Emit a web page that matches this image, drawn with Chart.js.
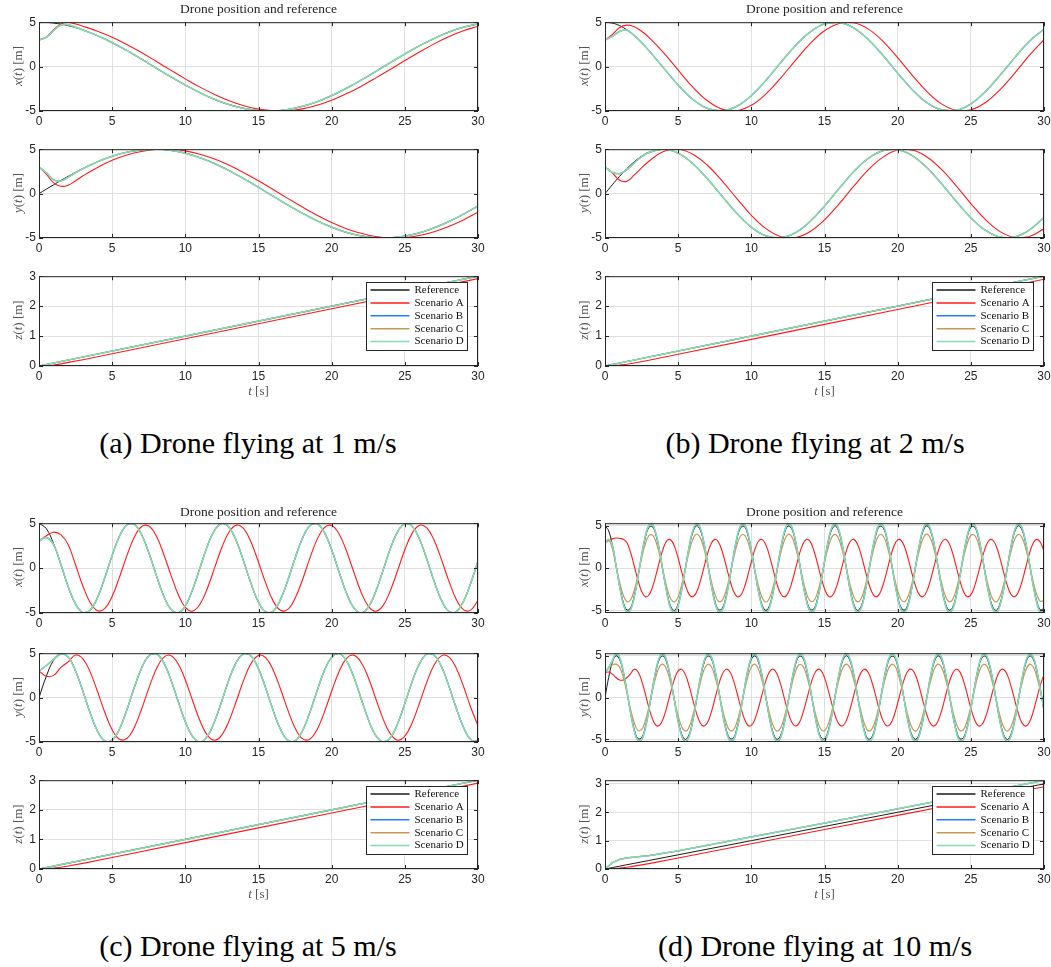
<!DOCTYPE html>
<html>
<head>
<meta charset="utf-8">
<script src="https://cdn.jsdelivr.net/npm/chart.js@4.4.0/dist/chart.umd.min.js"></script>
<style>
  body { margin: 0; width: 1051px; height: 967px; overflow: hidden; position: relative; background: #fff; }
  canvas { position: absolute; }
  .txt { position: absolute; transform: translate(-50%, -50%); white-space: nowrap; font-family: "Liberation Serif", serif; color: #262626; }
  .ttl { font-size: 13.5px; }
  .lab { font-size: 13px; color: #555; }
  .ylab { transform: translate(-50%, -50%) rotate(-90deg); }
  .cap { font-size: 30px; color: #000; }
</style>
</head>
<body>
<script>
// ---- common axis ticks / labels ----
const tTicks = [0, 5, 10, 15, 20, 25, 30];
const xyTicks = [-5, 0, 5];
const zTicks = [0, 1, 2, 3];
const scenLabels = ['Reference', 'Scenario A', 'Scenario B', 'Scenario C', 'Scenario D'];

// ---- (a) 1 m/s ----
const a_t = [0,0.5,1,1.5,2,2.5,3,4,5,6,7,8,9,10,11,12,13,14,15,16,17,18,19,20,21,22,23,24,25,26,27,28,29,30];
const a_xRef = [5.00,4.98,4.90,4.78,4.61,4.39,4.13,3.48,2.70,1.81,0.85,-0.15,-1.14,-2.08,-2.94,-3.69,-4.28,-4.71,-4.95,-4.99,-4.83,-4.48,-3.96,-3.27,-2.45,-1.54,-0.56,0.44,1.42,2.34,3.17,3.88,4.43,4.80];
const a_xA = [3.00,3.35,4.15,4.80,4.97,4.80,4.55,3.98,3.30,2.49,1.58,0.60,-0.40,-1.38,-2.31,-3.14,-3.85,-4.41,-4.79,-4.98,-4.97,-4.76,-4.36,-3.79,-3.07,-2.23,-1.30,-0.32,0.68,1.65,2.56,3.36,4.03,4.54];
// B, C and D sit on top of each other; after the start they follow the reference
const a_xTrack = [3.00,3.30,4.05,4.68,4.70,4.43,4.13].concat(a_xRef.slice(7));
const a_yRef = [0,0.50,0.99,1.48,1.95,2.40,2.82,3.59,4.21,4.66,4.93,5.00,4.87,4.55,4.04,3.38,2.58,1.67,0.71,-0.29,-1.28,-2.21,-3.06,-3.78,-4.36,-4.76,-4.97,-4.98,-4.79,-4.42,-3.86,-3.16,-2.32,-1.40];
const a_yA = [3.00,2.20,1.20,0.82,0.95,1.45,2.00,2.95,3.75,4.34,4.74,4.96,4.99,4.81,4.44,3.89,3.19,2.36,1.44,0.46,-0.54,-1.52,-2.44,-3.26,-3.95,-4.47,-4.83,-4.99,-4.95,-4.72,-4.29,-3.70,-2.96,-2.10];
const a_yTrack = [3.00,2.35,1.55,1.42,1.85,2.35,2.80].concat(a_yRef.slice(7));
const a_tz = [0,0.5,1,1.5,2,3,5,10,15,20,25,30];
const a_zRef = [0,0.05,0.10,0.15,0.20,0.30,0.50,1.00,1.50,2.00,2.50,3.00];
const a_zA = [0,0.01,0.03,0.07,0.12,0.21,0.41,0.91,1.41,1.91,2.41,2.92];
const a_zTrack = [0,0.05,0.10,0.15,0.20,0.30,0.50,1.00,1.50,2.00,2.50,3.00];

// ---- (b) 2 m/s ----
const b_t = [0,0.5,1,1.5,2,2.5,3,4,5,6,7,8,9,10,11,12,13,14,15,16,17,18,19,20,21,22,23,24,25,26,27,28,29,30];
const b_xRef = [5.00,4.90,4.61,4.13,3.48,2.70,1.81,-0.15,-2.08,-3.69,-4.71,-4.99,-4.48,-3.27,-1.54,0.44,2.34,3.88,4.80,4.97,4.35,3.04,1.25,-0.73,-2.60,-4.06,-4.87,-4.92,-4.20,-2.81,-0.97,1.01,2.85,4.22];
const b_xA = [3.00,3.60,4.40,4.67,4.50,3.98,3.30,1.58,-0.40,-2.31,-3.85,-4.79,-4.97,-4.36,-3.07,-1.30,0.68,2.56,4.03,4.86,4.93,4.22,2.85,1.01,-0.98,-2.81,-4.20,-4.92,-4.87,-4.05,-2.59,-0.73,1.26,3.04];
const b_xTrack = [3.00,3.40,3.95,4.10,3.50,2.70,1.81].concat(b_xRef.slice(7));
const b_yRef = [0,0.99,1.95,2.82,3.59,4.21,4.66,5.00,4.55,3.38,1.67,-0.29,-2.21,-3.78,-4.76,-4.98,-4.42,-3.16,-1.40,0.58,2.47,3.97,4.84,4.95,4.27,2.92,1.11,-0.87,-2.72,-4.14,-4.90,-4.89,-4.11,-2.68];
const b_yA = [3.00,2.35,1.50,1.40,2.10,2.90,3.65,4.74,4.99,4.44,3.19,1.44,-0.54,-2.44,-3.95,-4.83,-4.95,-4.29,-2.96,-1.16,0.83,2.69,4.11,4.90,4.90,4.13,2.72,0.87,-1.12,-2.93,-4.28,-4.95,-4.84,-3.97];
const b_yTrack = [3.00,2.40,2.25,2.70,3.45,4.15,4.62].concat(b_yRef.slice(7));
const b_tz = [0,0.5,1,1.5,2,3,5,10,15,20,25,30];
const b_zRef = [0,0.05,0.10,0.15,0.20,0.30,0.50,1.00,1.50,2.00,2.50,3.00];
const b_zA = [0,0.01,0.03,0.06,0.10,0.19,0.39,0.89,1.39,1.89,2.39,2.90];
const b_zTrack = [0,0.05,0.10,0.15,0.20,0.30,0.50,1.00,1.50,2.00,2.50,3.00];

// ---- (c) 5 m/s ----
const c_t = [0,0.5,1,1.5,2,2.5,3,3.5,4,4.5,5,5.5,6,6.5,7,7.5,8,8.5,9,9.5,10,10.5,11,11.5,12,12.5,13,13.5,14,14.5,15,15.5,16,16.5,17,17.5,18,18.5,19,19.5,20,20.5,21,21.5,22,22.5,23,23.5,24,24.5,25,25.5,26,26.5,27,27.5,28,28.5,29,29.5,30];
const c_xRef = [5.00,4.39,2.70,0.35,-2.08,-4.01,-4.95,-4.68,-3.27,-1.05,1.42,3.54,4.80,4.88,3.77,1.73,-0.73,-3.01,-4.56,-4.99,-4.20,-2.38,0.02,2.42,4.22,4.99,4.54,2.97,0.68,-1.77,-3.80,-4.89,-4.79,-3.51,-1.38,1.10,3.30,4.70,4.94,3.98,2.04,-0.40,-2.74,-4.41,-5.00,-4.37,-2.66,-0.31,2.12,4.03,4.96,4.67,3.23,1.01,-1.46,-3.57,-4.81,-4.87,-3.74,-1.69,0.77];
const c_xA = [3.00,3.60,4.00,3.70,2.59,0.34,-2.00,-3.85,-4.75,-4.49,-3.14,-1.01,1.36,3.40,4.61,4.68,3.62,1.66,-0.70,-2.89,-4.38,-4.79,-4.03,-2.28,0.02,2.32,4.05,4.79,4.36,2.85,0.65,-1.70,-3.65,-4.69,-4.60,-3.37,-1.32,1.06,3.17,4.51,4.74,3.82,1.96,-0.38,-2.63,-4.23,-4.80,-4.20,-2.55,-0.30,2.04,3.87,4.76,4.48,3.10,0.97,-1.40,-3.43,-4.62,-4.68,-3.59];
const c_xTrack = [3.00,3.40,2.60,0.40].concat(c_xRef.slice(4));
const c_yRef = [0,2.40,4.21,4.99,4.55,2.99,0.71,-1.75,-3.78,-4.89,-4.79,-3.53,-1.40,1.08,3.29,4.69,4.95,3.99,2.06,-0.38,-2.72,-4.40,-5.00,-4.38,-2.68,-0.33,2.10,4.02,4.95,4.67,3.25,1.03,-1.44,-3.56,-4.81,-4.88,-3.76,-1.71,0.75,3.03,4.56,4.98,4.18,2.36,-0.04,-2.44,-4.23,-4.99,-4.53,-2.96,-0.66,1.80,3.81,4.90,4.78,3.50,1.35,-1.12,-3.32,-4.71,-4.94];
const c_yA = [3.00,2.40,2.50,3.40,4.04,4.79,4.37,2.87,0.68,-1.68,-3.63,-4.69,-4.60,-3.39,-1.34,1.04,3.16,4.50,4.75,3.83,1.98,-0.36,-2.61,-4.22,-4.80,-4.20,-2.57,-0.32,2.02,3.86,4.75,4.48,3.12,0.99,-1.38,-3.42,-4.62,-4.68,-3.61,-1.64,0.72,2.91,4.38,4.78,4.01,2.27,-0.04,-2.34,-4.06,-4.79,-4.35,-2.84,-0.63,1.73,3.66,4.70,4.59,3.36,1.30,-1.08,-3.19];
const c_yTrack = [3.00,3.60,4.30,4.90].concat(c_yRef.slice(4));
const c_tz = [0,0.5,1,1.5,2,3,5,10,15,20,25,30];
const c_zRef = [0,0.05,0.10,0.15,0.20,0.30,0.50,1.00,1.50,2.00,2.50,3.00];
const c_zA = [0,0.01,0.03,0.06,0.10,0.19,0.39,0.89,1.39,1.89,2.39,2.90];
const c_zTrack = [0,0.05,0.10,0.15,0.20,0.30,0.50,1.00,1.50,2.00,2.50,3.00];

// ---- (d) 10 m/s ----
const d_t = [0,0.25,0.5,0.75,1,1.25,1.5,1.75,2,2.25,2.5,2.75,3,3.25,3.5,3.75,4,4.25,4.5,4.75,5,5.25,5.5,5.75,6,6.25,6.5,6.75,7,7.25,7.5,7.75,8,8.25,8.5,8.75,9,9.25,9.5,9.75,10,10.25,10.5,10.75,11,11.25,11.5,11.75,12,12.25,12.5,12.75,13,13.25,13.5,13.75,14,14.25,14.5,14.75,15,15.25,15.5,15.75,16,16.25,16.5,16.75,17,17.25,17.5,17.75,18,18.25,18.5,18.75,19,19.25,19.5,19.75,20,20.25,20.5,20.75,21,21.25,21.5,21.75,22,22.25,22.5,22.75,23,23.25,23.5,23.75,24,24.25,24.5,24.75,25,25.25,25.5,25.75,26,26.25,26.5,26.75,27,27.25,27.5,27.75,28,28.25,28.5,28.75,29,29.25,29.5,29.75,30];
const d_xRef = [5.00,4.39,2.70,0.35,-2.08,-4.01,-4.95,-4.68,-3.27,-1.05,1.42,3.54,4.80,4.88,3.77,1.73,-0.73,-3.01,-4.56,-4.99,-4.20,-2.38,0.02,2.42,4.22,4.99,4.54,2.97,0.68,-1.77,-3.80,-4.89,-4.79,-3.51,-1.38,1.10,3.30,4.70,4.94,3.98,2.04,-0.40,-2.74,-4.41,-5.00,-4.37,-2.66,-0.31,2.12,4.03,4.96,4.67,3.23,1.01,-1.46,-3.57,-4.81,-4.87,-3.74,-1.69,0.77,3.04,4.57,4.98,4.17,2.34,-0.07,-2.46,-4.24,-4.99,-4.52,-2.94,-0.64,1.82,3.83,4.90,4.78,3.48,1.33,-1.14,-3.33,-4.71,-4.94,-3.95,-2.00,0.44,2.78,4.43,5.00,4.35,2.63,0.27,-2.16,-4.06,-4.96,-4.65,-3.20,-0.97,1.50,3.61,4.83,4.86,3.71,1.65,-0.82,-3.08,-4.59,-4.98,-4.15,-2.30,0.11,2.50,4.27,4.99,4.50,2.90,0.60,-1.86,-3.86,-4.91,-4.76];
const d_xA = [3.00,3.25,3.45,3.55,3.50,3.40,2.99,1.84,0.24,-1.41,-2.73,-3.37,-3.18,-2.22,-0.71,0.97,2.41,3.26,3.32,2.56,1.18,-0.50,-2.05,-3.10,-3.39,-2.86,-1.62,0.01,1.65,2.87,3.39,3.09,2.02,0.46,-1.20,-2.58,-3.33,-3.26,-2.39,-0.94,0.75,2.24,3.20,3.36,2.71,1.39,-0.27,-1.86,-3.00,-3.40,-2.97,-1.81,-0.21,1.44,2.74,3.37,3.18,2.20,0.69,-0.99,-2.43,-3.27,-3.31,-2.54,-1.15,0.52,2.07,3.11,3.39,2.84,1.59,-0.05,-1.67,-2.88,-3.39,-3.07,-2.00,-0.44,1.24,2.60,3.33,3.25,2.37,0.90,-0.78,-2.26,-3.20,-3.36,-2.69,-1.36,0.30,1.89,3.01,3.40,2.96,1.79,0.18,-1.47,-2.76,-3.37,-3.16,-2.18,-0.66,1.02,2.45,3.28,3.30,2.52,1.12,-0.56,-2.09,-3.12,-3.39,-2.82,-1.56,0.07,1.70,2.90,3.39,3.06,1.97];
const d_xC = [3.00,3.30,2.30,0.28,-1.66,-3.21,-3.96,-3.74,-2.62,-0.84,1.14,2.83,3.84,3.90,3.02,1.38,-0.58,-2.41,-3.65,-3.99,-3.36,-1.90,0.02,1.94,3.38,3.99,3.63,2.38,0.54,-1.42,-3.04,-3.91,-3.83,-2.81,-1.10,0.88,2.64,3.76,3.95,3.18,1.63,-0.32,-2.19,-3.53,-4.00,-3.50,-2.13,-0.25,1.70,3.22,3.97,3.74,2.58,0.81,-1.17,-2.86,-3.85,-3.90,-2.99,-1.35,0.62,2.43,3.66,3.98,3.34,1.87,-0.06,-1.97,-3.39,-3.99,-3.62,-2.35,-0.51,1.46,3.06,3.92,3.82,2.78,1.06,-0.91,-2.66,-3.77,-3.95,-3.16,-1.60,0.35,2.22,3.54,4.00,3.48,2.10,0.22,-1.73,-3.25,-3.97,-3.72,-2.56,-0.78,1.20,2.89,3.86,3.89,2.97,1.32,-0.66,-2.46,-3.67,-3.98,-3.32,-1.84,0.09,2.00,3.42,3.99,3.60,2.32,0.48,-1.49,-3.09,-3.93,-3.81];
// B lies under D in this panel
const d_xBD = [3.00,3.40,2.70,0.37,-2.18,-4.21,-5.20,-4.91,-3.43,-1.10,1.49,3.72,5.04,5.12,3.96,1.82,-0.77,-3.16,-4.79,-5.24,-4.41,-2.50,0.02,2.54,4.43,5.24,4.77,3.12,0.71,-1.86,-3.99,-5.13,-5.03,-3.69,-1.45,1.16,3.47,4.94,5.19,4.18,2.14,-0.42,-2.88,-4.63,-5.25,-4.59,-2.79,-0.33,2.23,4.23,5.21,4.90,3.39,1.06,-1.53,-3.75,-5.05,-5.11,-3.93,-1.77,0.81,3.19,4.80,5.23,4.38,2.46,-0.07,-2.58,-4.45,-5.24,-4.75,-3.09,-0.67,1.91,4.02,5.15,5.02,3.65,1.40,-1.20,-3.50,-4.95,-5.19,-4.15,-2.10,0.46,2.92,4.65,5.25,4.57,2.76,0.28,-2.27,-4.26,-5.21,-4.88,-3.36,-1.02,1.58,3.79,5.07,5.10,3.90,1.73,-0.86,-3.23,-4.82,-5.23,-4.36,-2.42,0.12,2.63,4.48,5.24,4.73,3.05,0.63,-1.95,-4.05,-5.16,-5.00];
const d_yRef = [0,2.40,4.21,4.99,4.55,2.99,0.71,-1.75,-3.78,-4.89,-4.79,-3.53,-1.40,1.08,3.29,4.69,4.95,3.99,2.06,-0.38,-2.72,-4.40,-5.00,-4.38,-2.68,-0.33,2.10,4.02,4.95,4.67,3.25,1.03,-1.44,-3.56,-4.81,-4.88,-3.76,-1.71,0.75,3.03,4.56,4.98,4.18,2.36,-0.04,-2.44,-4.23,-4.99,-4.53,-2.96,-0.66,1.80,3.81,4.90,4.78,3.50,1.35,-1.12,-3.32,-4.71,-4.94,-3.97,-2.02,0.42,2.76,4.42,5.00,4.36,2.65,0.29,-2.14,-4.05,-4.96,-4.66,-3.22,-0.99,1.48,3.59,4.82,4.87,3.73,1.67,-0.79,-3.06,-4.58,-4.98,-4.16,-2.32,0.09,2.47,4.25,4.99,4.51,2.92,0.62,-1.84,-3.84,-4.91,-4.77,-3.46,-1.31,1.16,3.35,4.72,4.93,3.94,1.98,-0.46,-2.79,-4.44,-5.00,-4.33,-2.61,-0.24,2.18,4.07,4.96,4.64,3.18,0.95,-1.52];
const d_yA = [3.00,3.05,2.80,2.40,2.10,2.10,2.40,2.86,3.39,3.09,2.03,0.48,-1.19,-2.57,-3.33,-3.26,-2.40,-0.95,0.73,2.24,3.19,3.37,2.71,1.40,-0.26,-1.85,-2.99,-3.40,-2.98,-1.82,-0.22,1.43,2.73,3.37,3.18,2.21,0.70,-0.98,-2.42,-3.27,-3.32,-2.56,-1.16,0.51,2.06,3.10,3.39,2.84,1.60,-0.03,-1.66,-2.88,-3.39,-3.08,-2.01,-0.45,1.22,2.59,3.33,3.25,2.38,0.92,-0.76,-2.26,-3.20,-3.36,-2.70,-1.37,0.29,1.88,3.01,3.40,2.96,1.80,0.20,-1.46,-2.75,-3.37,-3.17,-2.19,-0.67,1.01,2.44,3.28,3.31,2.54,1.14,-0.54,-2.08,-3.11,-3.39,-2.83,-1.58,0.06,1.68,2.89,3.39,3.07,1.99,0.42,-1.25,-2.61,-3.34,-3.24,-2.35,-0.89,0.79,2.28,3.21,3.35,2.68,1.35,-0.31,-1.90,-3.02,-3.40,-2.94,-1.77,-0.16,1.48,2.77];
const d_yC = [3.00,3.50,3.90,3.99,3.64,2.39,0.57,-1.40,-3.02,-3.91,-3.83,-2.82,-1.12,0.86,2.63,3.75,3.96,3.19,1.65,-0.30,-2.18,-3.52,-4.00,-3.50,-2.14,-0.26,1.68,3.22,3.96,3.74,2.60,0.82,-1.15,-2.85,-3.85,-3.90,-3.01,-1.37,0.60,2.42,3.65,3.98,3.34,1.89,-0.03,-1.95,-3.38,-3.99,-3.62,-2.37,-0.53,1.44,3.05,3.92,3.82,2.80,1.08,-0.90,-2.66,-3.77,-3.95,-3.18,-1.62,0.34,2.21,3.54,4.00,3.49,2.12,0.23,-1.71,-3.24,-3.97,-3.73,-2.58,-0.79,1.18,2.87,3.86,3.90,2.98,1.34,-0.63,-2.45,-3.66,-3.98,-3.33,-1.86,0.07,1.98,3.40,3.99,3.61,2.34,0.50,-1.47,-3.07,-3.93,-3.82,-2.77,-1.05,0.93,2.68,3.78,3.94,3.15,1.58,-0.37,-2.23,-3.55,-4.00,-3.46,-2.09,-0.19,1.74,3.26,3.97,3.71,2.54,0.76,-1.22];
const d_yBD = [3.00,3.60,4.40,5.24,4.78,3.14,0.75,-1.84,-3.97,-5.13,-5.03,-3.71,-1.47,1.13,3.45,4.92,5.20,4.19,2.16,-0.40,-2.86,-4.62,-5.25,-4.60,-2.81,-0.35,2.21,4.22,5.20,4.90,3.41,1.08,-1.51,-3.74,-5.05,-5.12,-3.95,-1.80,0.79,3.18,4.79,5.23,4.39,2.48,-0.04,-2.56,-4.44,-5.24,-4.76,-3.11,-0.69,1.89,4.00,5.15,5.02,3.68,1.42,-1.18,-3.49,-4.95,-5.19,-4.17,-2.12,0.44,2.90,4.64,5.25,4.58,2.78,0.30,-2.25,-4.25,-5.21,-4.89,-3.38,-1.04,1.55,3.77,5.06,5.11,3.92,1.75,-0.83,-3.21,-4.81,-5.23,-4.37,-2.44,0.09,2.59,4.46,5.24,4.74,3.07,0.65,-1.93,-4.03,-5.16,-5.01,-3.63,-1.38,1.22,3.52,4.96,5.18,4.14,2.08,-0.48,-2.93,-4.66,-5.25,-4.55,-2.74,-0.25,2.29,4.27,5.21,4.87,3.34,1.00,-1.60];
const d_tz = [0,0.5,1,1.5,2,3,5,10,15,20,25,30];
const d_zRef = [0,0.05,0.10,0.15,0.20,0.30,0.50,1.00,1.50,2.00,2.50,3.00];
const d_zA = [0,0.01,0.03,0.06,0.10,0.19,0.39,0.89,1.39,1.89,2.39,2.90];
const d_zTrack = [0,0.22,0.34,0.39,0.42,0.47,0.64,1.13,1.62,2.12,2.62,3.12];

// ---- style ----
const lineColors = ['#1a1a1a', '#ff1a1a', '#1f7fff', '#c49a55', '#86dcb0'];
const lineWidths = [1, 1.1, 1.2, 1.2, 1.5];
const lineOrder = [5, 4, 3, 2, 1];   // D drawn on top, like the original plot order
const GRID = '#e0e0e0';
const AXC = '#262626';
const YW = 34, XH = 22, PT = 8, PR = 14;

// plot boxes in page pixels
const panels = [
  { L: 39,  R: 478,  tops: [20, 147, 274], h: [91, 91, 92], ttl: 8.5, dy: 0 },
  { L: 605, R: 1044, tops: [20, 147, 274], h: [91, 91, 92], ttl: 8.5, dy: 0 },
  { L: 39,  R: 478,  tops: [521, 651, 778], h: [92, 91, 91], ttl: 512, dy: 503 },
  { L: 605, R: 1044, tops: [521, 651, 778], h: [92, 91, 91], ttl: 512, dy: 503 }
];

const matlabBox = {
  id: 'matlabBox',
  afterDatasetsDraw(chart) {
    const { ctx, chartArea: ca, scales } = chart;
    ctx.save();
    ctx.strokeStyle = AXC;
    ctx.lineWidth = 1;
    ctx.beginPath();
    scales.x.ticks.forEach(t => {
      const px = Math.round(scales.x.getPixelForValue(t.value)) + 0.5;
      ctx.moveTo(px, ca.bottom); ctx.lineTo(px, ca.bottom - 4);
      ctx.moveTo(px, ca.top); ctx.lineTo(px, ca.top + 4);
    });
    scales.y.ticks.forEach(t => {
      const py = Math.round(scales.y.getPixelForValue(t.value)) + 0.5;
      ctx.moveTo(ca.left, py); ctx.lineTo(ca.left + 4, py);
      ctx.moveTo(ca.right, py); ctx.lineTo(ca.right - 4, py);
    });
    ctx.stroke();
    ctx.strokeRect(ca.left + 0.5, ca.top + 0.5, ca.right - ca.left - 1, ca.bottom - ca.top - 1);
    ctx.restore();
  }
};

const legendBox = {
  id: 'legendBox',
  afterDatasetsDraw(chart, args, opts) {
    if (!opts.show) return;
    const { ctx, chartArea: ca } = chart;
    const w = 101, h = 68;
    const x0 = Math.round(ca.right - 11 - w) + 0.5, y0 = Math.round(ca.top + 6) + 0.5;
    ctx.save();
    ctx.fillStyle = '#fff';
    ctx.fillRect(x0, y0, w, h);
    ctx.strokeStyle = AXC;
    ctx.lineWidth = 1;
    ctx.strokeRect(x0, y0, w, h);
    ctx.font = '11px "Liberation Serif"';
    ctx.textBaseline = 'middle';
    ctx.fillStyle = '#111';
    scenLabels.forEach((lab, i) => {
      const y = y0 + 7.5 + i * 12.9;
      ctx.strokeStyle = lineColors[i];
      ctx.lineWidth = 1.5;
      ctx.beginPath(); ctx.moveTo(x0 + 4, y); ctx.lineTo(x0 + 43, y); ctx.stroke();
      ctx.fillText(lab, x0 + 48, y);
    });
    ctx.restore();
  }
};
Chart.register(matlabBox, legendBox);

function pts(t, v) { return v.map((y, i) => ({ x: t[i], y: y })); }

function series(list, tension) {
  return list.map(s => ({
    label: scenLabels[s[0]],
    data: pts(s[1], s[2]),
    borderColor: lineColors[s[0]],
    borderWidth: lineWidths[s[0]],
    order: lineOrder[s[0]],
    tension: tension,
    pointRadius: 0,
    fill: false
  }));
}

function makePlot(p, row, datasets, yMin, yMax, yTicks, legend) {
  const top = p.tops[row], h = p.h[row];
  const cv = document.createElement('canvas');
  cv.width = p.R - p.L + YW + PR;
  cv.height = h + PT + XH;
  cv.style.left = (p.L - YW) + 'px';
  cv.style.top = (top - PT) + 'px';
  document.body.appendChild(cv);
  const tickFont = { family: 'Liberation Sans', size: 12 };
  new Chart(cv, {
    type: 'line',
    data: { datasets: datasets },
    options: {
      responsive: false, animation: false, devicePixelRatio: 1,
      layout: { padding: { left: 0, right: PR, top: PT, bottom: 0 } },
      plugins: { legend: { display: false }, tooltip: { enabled: false }, legendBox: { show: legend } },
      scales: {
        x: {
          type: 'linear', min: 0, max: 30,
          afterBuildTicks: s => { s.ticks = tTicks.map(v => ({ value: v })); },
          afterFit: s => { s.height = XH; },
          grid: { color: GRID, drawTicks: false },
          border: { display: false },
          ticks: { font: tickFont, color: AXC, padding: 3, maxRotation: 0, autoSkip: false }
        },
        y: {
          type: 'linear', min: yMin, max: yMax,
          afterBuildTicks: s => { s.ticks = yTicks.map(v => ({ value: v })); },
          afterFit: s => { s.width = YW; },
          grid: { color: GRID, drawTicks: false },
          border: { display: false },
          ticks: { font: tickFont, color: AXC, padding: 3, autoSkip: false }
        }
      }
    }
  });
}

function addText(cls, html, x, y) {
  const d = document.createElement('div');
  d.className = 'txt ' + cls;
  d.innerHTML = html;
  d.style.left = x + 'px';
  d.style.top = y + 'px';
  document.body.appendChild(d);
}

const P = [
  { x: [[0, a_t, a_xRef], [1, a_t, a_xA], [2, a_t, a_xTrack], [3, a_t, a_xTrack], [4, a_t, a_xTrack]],
    y: [[0, a_t, a_yRef], [1, a_t, a_yA], [2, a_t, a_yTrack], [3, a_t, a_yTrack], [4, a_t, a_yTrack]],
    z: [[0, a_tz, a_zRef], [1, a_tz, a_zA], [2, a_tz, a_zTrack], [3, a_tz, a_zTrack], [4, a_tz, a_zTrack]],
    xy: [-5, 5], zMax: 3, cap: '(a) Drone flying at 1 m/s' },
  { x: [[0, b_t, b_xRef], [1, b_t, b_xA], [2, b_t, b_xTrack], [3, b_t, b_xTrack], [4, b_t, b_xTrack]],
    y: [[0, b_t, b_yRef], [1, b_t, b_yA], [2, b_t, b_yTrack], [3, b_t, b_yTrack], [4, b_t, b_yTrack]],
    z: [[0, b_tz, b_zRef], [1, b_tz, b_zA], [2, b_tz, b_zTrack], [3, b_tz, b_zTrack], [4, b_tz, b_zTrack]],
    xy: [-5, 5], zMax: 3, cap: '(b) Drone flying at 2 m/s' },
  { x: [[0, c_t, c_xRef], [1, c_t, c_xA], [2, c_t, c_xTrack], [3, c_t, c_xTrack], [4, c_t, c_xTrack]],
    y: [[0, c_t, c_yRef], [1, c_t, c_yA], [2, c_t, c_yTrack], [3, c_t, c_yTrack], [4, c_t, c_yTrack]],
    z: [[0, c_tz, c_zRef], [1, c_tz, c_zA], [2, c_tz, c_zTrack], [3, c_tz, c_zTrack], [4, c_tz, c_zTrack]],
    xy: [-5, 5], zMax: 3, cap: '(c) Drone flying at 5 m/s' },
  { x: [[0, d_t, d_xRef], [1, d_t, d_xA], [2, d_t, d_xBD], [3, d_t, d_xC], [4, d_t, d_xBD]],
    y: [[0, d_t, d_yRef], [1, d_t, d_yA], [2, d_t, d_yBD], [3, d_t, d_yC], [4, d_t, d_yBD]],
    z: [[0, d_tz, d_zRef], [1, d_tz, d_zA], [2, d_tz, d_zTrack], [3, d_tz, d_zTrack], [4, d_tz, d_zTrack]],
    xy: [-5.3, 5.3], zMax: 3.13, cap: '(d) Drone flying at 10 m/s' }
];

P.forEach((d, i) => {
  const p = panels[i];
  makePlot(p, 0, series(d.x, 0.4), d.xy[0], d.xy[1], xyTicks, false);
  makePlot(p, 1, series(d.y, 0.4), d.xy[0], d.xy[1], xyTicks, false);
  makePlot(p, 2, series(d.z, 0), 0, d.zMax, zTicks, true);
  const cx = (p.L + p.R) / 2;
  const ylx = p.L - 21;
  addText('ttl', 'Drone position and reference', cx, p.ttl);
  addText('lab ylab', '<i>x</i>(<i>t</i>) [m]', ylx, p.tops[0] + p.h[0] / 2);
  addText('lab ylab', '<i>y</i>(<i>t</i>) [m]', ylx, p.tops[1] + p.h[1] / 2);
  addText('lab ylab', '<i>z</i>(<i>t</i>) [m]', ylx, p.tops[2] + p.h[2] / 2);
  addText('lab', '<i>t</i> [s]', cx, p.tops[2] + p.h[2] + 25);
  addText('cap', d.cap, i % 2 === 0 ? 248 : 815, 443 + p.dy);
});
</script>
</body>
</html>
